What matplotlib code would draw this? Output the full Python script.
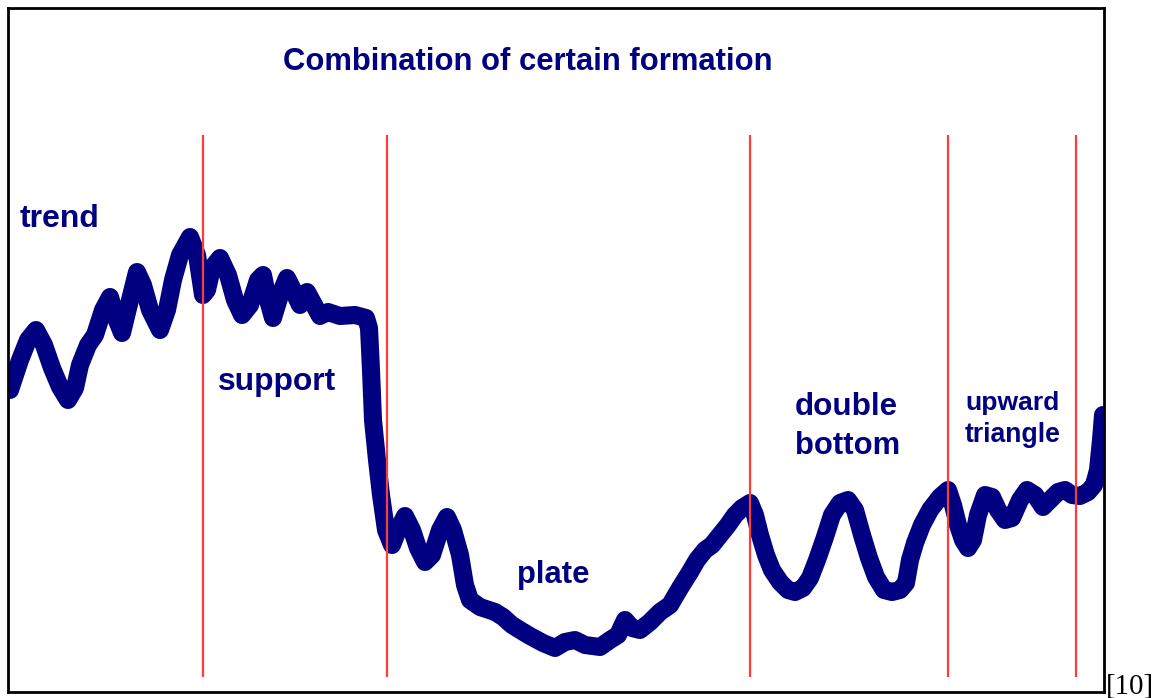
import matplotlib
matplotlib.use("Agg")
import matplotlib.pyplot as plt

W, H = 1162, 698
DPI = 100

# ---- data (time index, level read as pixel row from the picture) ----
time = [10, 20, 28, 36, 44, 52, 60, 68, 75, 80, 88, 95, 103, 110, 116, 122, 130,
        137, 143, 150, 160, 167, 173, 180, 190, 197, 203, 207, 212, 220, 228,
        235, 242, 250, 258, 263, 268, 273, 280, 287, 293, 300, 307, 314, 320,
        328, 340, 355, 366, 369, 371, 373, 377, 381, 386, 392, 398, 405, 412,
        418, 425, 432, 440, 447, 453, 460, 465, 470, 480, 495, 503, 512, 520,
        530, 543, 555, 565, 575, 585, 600, 610, 618, 625, 632, 640, 650, 660,
        670, 680, 690, 697, 705, 712, 720, 728, 735, 742, 750, 755, 760, 766,
        772, 780, 788, 795, 803, 810, 817, 825, 832, 840, 848, 855, 862, 869,
        876, 884, 892, 900, 906, 910, 915, 922, 930, 940, 948, 953, 958, 963,
        968, 973, 978, 985, 992, 998, 1005, 1012, 1020, 1027, 1035, 1043, 1050,
        1058, 1065, 1072, 1080, 1088, 1094, 1098, 1101, 1103]
ypix = [390, 360, 340, 330, 345, 368, 387, 400, 388, 365, 345, 335, 310, 297, 318, 333, 300,
        272, 285, 310, 330, 310, 280, 255, 237, 255, 295, 290, 268, 258, 275,
        300, 315, 305, 280, 275, 300, 318, 295, 278, 290, 305, 292, 305, 316,
        312, 316, 315, 318, 328, 370, 420, 460, 495, 530, 545, 530, 516, 530,
        548, 562, 555, 530, 517, 530, 555, 585, 600, 607, 612, 617, 625, 630,
        636, 643, 648, 642, 640, 645, 647, 640, 635, 620, 628, 630, 622, 612,
        605, 588, 572, 560, 550, 545, 535, 525, 515, 508, 503, 515, 535, 555,
        570, 582, 590, 592, 588, 578, 560, 537, 515, 503, 500, 510, 535, 558,
        577, 590, 592, 590, 583, 560, 543, 525, 510, 497, 490, 505, 525, 540,
        548, 540, 515, 495, 497, 510, 520, 518, 500, 490, 495, 507, 500,
        492, 490, 495, 496, 492, 485, 470, 440, 415]
price = [H - v for v in ypix]

divider_times = [203, 387, 750, 948, 1076]
divider_low, divider_high = H - 677, H - 135

title = "Combination of certain formation"
labels = ["trend", "support", "plate", "double", "bottom", "upward", "triangle"]
source_note = "[10]"

NAVY = "#000080"
RED = "#ff3b3b"

fig = plt.figure(figsize=(W / DPI, H / DPI), dpi=DPI)
fig.patch.set_facecolor("white")

bx0, by0, bx1, by1 = 8, 8, 1104, 692  # frame box in pixels (top-left origin)
ax = fig.add_axes([bx0 / W, (H - by1) / H, (bx1 - bx0) / W, (by1 - by0) / H])
ax.set_xlim(bx0, bx1)
ax.set_ylim(H - by1, H - by0)
ax.set_xticks([])
ax.set_yticks([])
for s in ax.spines.values():
    s.set_linewidth(2.0)
    s.set_color("black")

ax.vlines(divider_times, divider_low, divider_high, colors=RED, linewidth=1.6, zorder=3)
ax.plot(time, price, color=NAVY, linewidth=13, solid_joinstyle="round",
        solid_capstyle="round", zorder=2)

renderer = fig.canvas.get_renderer()


def fitted(x, y_base, s, width, **kw):
    t = fig.text(x / W, 1 - y_base / H, s, fontsize=20, va="baseline", ha="left", **kw)
    w = t.get_window_extent(renderer=renderer).width
    t.set_fontsize(20 * width / w)
    return t


bold = dict(family="Liberation Sans", weight="bold", color=NAVY)
fitted(283, 70, title, 490, **bold)
fitted(20, 227, labels[0], 80, **bold)
fitted(218, 390, labels[1], 118, **bold)
fitted(517, 583, labels[2], 72, **bold)
fitted(795, 415, labels[3], 103, **bold)
fitted(795, 454, labels[4], 105, **bold)
fitted(965, 410, labels[5], 94, **bold)
fitted(965, 442, labels[6], 96, **bold)
fitted(1106, 693, source_note, 48, family="Liberation Serif", color="black")

fig.savefig("out.png", dpi=DPI)
